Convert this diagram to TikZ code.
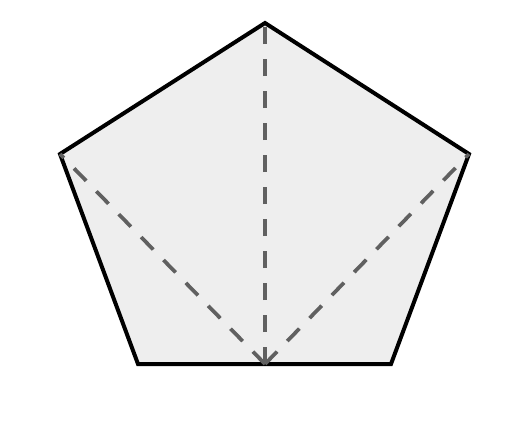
\documentclass[tikz,border=0pt]{standalone}
\definecolor{facecolor}{RGB}{238,238,238}
\definecolor{dashcolor}{RGB}{96,96,96}

\begin{document}
\begin{tikzpicture}[x=0.75pt,y=-0.75pt]
        % Fix the page to the reference size
        \useasboundingbox (0,0) rectangle (523,433);

        % Corners of the pentagon
        \coordinate (top) at (265,23);
        \coordinate (right) at (469,154);
        \coordinate (lowright) at (391,364);
        \coordinate (lowleft) at (138,364);
        \coordinate (left) at (60,154);
        \coordinate (mid) at (265,364);

        % Draw the pentagon
        \filldraw[fill=facecolor, draw=black, line width=3pt, line join=miter]
            (top) -- (right) -- (lowright) -- (lowleft) -- (left) -- cycle;

        % Dashed lines from the bottom midpoint
        \draw[dashcolor, line width=2.8pt, dash pattern=on 13pt off 11pt] (mid) -- (top);
        \draw[dashcolor, line width=2.8pt, dash pattern=on 13pt off 11pt] (mid) -- (left);
        \draw[dashcolor, line width=2.8pt, dash pattern=on 13pt off 11pt] (mid) -- (right);
    \end{tikzpicture}
\end{document}
